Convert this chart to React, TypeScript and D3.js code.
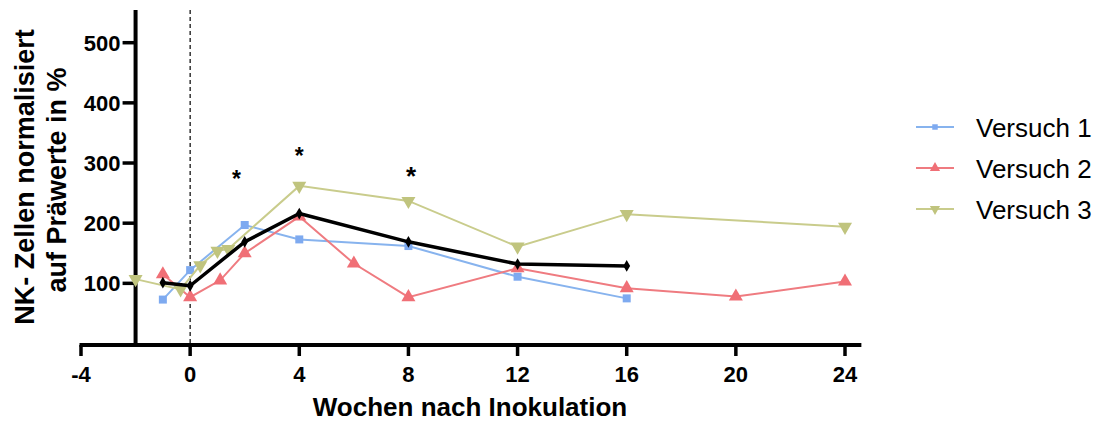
import React from "react";
import * as d3 from "d3";

// values
const v1Weeks = [-1, 0, 2, 4, 8, 12, 16];
const v1Values = [73, 122, 197, 173, 162, 111, 75];

const v2Weeks = [-1, 0, 1.1, 2, 4, 6, 8, 12, 16, 20, 24];
const v2Values = [115, 77, 105, 150, 211, 133, 77, 125, 92, 78, 103];

const v3Weeks = [-2, -0.35, 0.37, 1, 1.4, 4, 8, 12, 16, 24];
const v3Values = [107, 90, 130, 154, 157, 262, 237, 161, 215, 194];

const meanWeeks = [-1, 0, 2, 4, 8, 12, 16];
const meanValues = [101, 96, 169, 216, 169, 132, 129];

const starWeeks = [1.7, 4, 8.1];
const starValues = [280, 318, 283];

const xTicks = [-4, 0, 4, 8, 12, 16, 20, 24];
const yTicks = [100, 200, 300, 400, 500];

const seriesNames = ["Versuch 1", "Versuch 2", "Versuch 3"];
const seriesColors = ["#87b3ee", "#ef7b80", "#c9cc8c"];
const markerColors = ["#7eaaf0", "#f06f76", "#c0c47e"];

const W = 1103;
const H = 421;

type Pt = { x: number; y: number };

const zip = (xs: number[], ys: number[]): Pt[] => xs.map((x, i) => ({ x, y: ys[i] }));

const App = () => {
  const xScale = d3.scaleLinear().domain([-4, 24]).range([81, 845]);
  const yScale = d3.scaleLinear().domain([0, 500]).range([343.5, 42.7]);

  const line = d3
    .line<Pt>()
    .x((d) => xScale(d.x))
    .y((d) => yScale(d.y));

  const square = d3.symbol().type(d3.symbolSquare).size(64)()!;
  const triangle = d3.symbol().type(d3.symbolTriangle).size(85)()!;
  const diamond = d3.symbol().type(d3.symbolDiamond).size(40)()!;
  const legendShapes = [
    d3.symbol().type(d3.symbolSquare).size(30)()!,
    d3.symbol().type(d3.symbolTriangle).size(45)()!,
    d3.symbol().type(d3.symbolTriangle).size(45)()!,
  ];

  const series = [
    { pts: zip(v1Weeks, v1Values), shape: square, rot: 0 },
    { pts: zip(v2Weeks, v2Values), shape: triangle, rot: 0 },
    { pts: zip(v3Weeks, v3Values), shape: triangle, rot: 180 },
  ];

  const x0 = xScale(0);
  const yAxisX = xScale(-2);
  const axisY = yScale(0) + 1.5;
  const xEnd = xScale(24.6);

  return (
    <svg width={W} height={H} style={{ position: "absolute", left: 0, top: 0, background: "#fff" }}>
      <g fontFamily="'Liberation Sans', Arial, sans-serif">
        {/* y axis title */}
        <text
          transform="translate(33.5,177) rotate(-90)"
          textAnchor="middle"
          fontSize={27}
          fontWeight="bold"
        >
          NK- Zellen normalisiert
        </text>
        <text
          transform="translate(66,180) rotate(-90)"
          textAnchor="middle"
          fontSize={27}
          fontWeight="bold"
        >
          auf Präwerte in %
        </text>

        {/* dashed line at week 0 */}
        <line x1={x0} x2={x0} y1={10} y2={axisY} stroke="#000" strokeWidth={1.2} strokeDasharray="4,3" />

        {/* y axis */}
        <line x1={yAxisX} x2={yAxisX} y1={10} y2={axisY} stroke="#000" strokeWidth={4} />
        {yTicks.map((t) => (
          <g key={t}>
            <line x1={yAxisX - 13} x2={yAxisX} y1={yScale(t)} y2={yScale(t)} stroke="#000" strokeWidth={3.5} />
            <text x={yAxisX - 15} y={yScale(t) + 7.8} textAnchor="end" fontSize={22} fontWeight="bold">
              {t}
            </text>
          </g>
        ))}

        {/* x axis */}
        <line x1={xScale(-4) - 1.5} x2={xEnd} y1={axisY} y2={axisY} stroke="#000" strokeWidth={4} />
        {xTicks.map((t) => (
          <g key={t}>
            <line x1={xScale(t)} x2={xScale(t)} y1={axisY} y2={axisY + 11} stroke="#000" strokeWidth={3.5} />
            <text x={xScale(t)} y={382} textAnchor="middle" fontSize={22} fontWeight="bold">
              {t}
            </text>
          </g>
        ))}
        <text x={470} y={416} textAnchor="middle" fontSize={26} fontWeight="bold">
          Wochen nach Inokulation
        </text>

        {/* series */}
        {series.map((s, i) => (
          <g key={i}>
            <path d={line(s.pts)!} fill="none" stroke={seriesColors[i]} strokeWidth={2} />
            {s.pts.map((p, j) => (
              <path
                key={j}
                d={s.shape}
                fill={markerColors[i]}
                transform={`translate(${xScale(p.x)},${yScale(p.y)}) rotate(${s.rot})`}
              />
            ))}
          </g>
        ))}

        {/* mean line */}
        <path d={line(zip(meanWeeks, meanValues))!} fill="none" stroke="#000" strokeWidth={3.5} strokeLinejoin="round" />
        {meanWeeks.map((w, j) => (
          <path key={j} d={diamond} fill="#000" transform={`translate(${xScale(w)},${yScale(meanValues[j])})`} />
        ))}

        {/* significance stars */}
        {starWeeks.map((w, j) => (
          <text
            key={j}
            x={xScale(w)}
            y={yScale(starValues[j]) + 12}
            textAnchor="middle"
            fontSize={j === 2 ? 26 : 23}
            fontWeight="bold"
          >
            *
          </text>
        ))}

        {/* legend */}
        {seriesNames.map((name, i) => {
          const ly = 127 + i * 41;
          return (
            <g key={name}>
              <line x1={916} x2={954} y1={ly} y2={ly} stroke={seriesColors[i]} strokeWidth={2} />
              <path
                d={legendShapes[i]}
                fill={markerColors[i]}
                transform={`translate(935,${ly}) rotate(${i === 2 ? 180 : 0})`}
              />
              <text x={976} y={ly + 9.5} fontSize={26}>
                {name}
              </text>
            </g>
          );
        })}
      </g>
    </svg>
  );
};

export default App;
